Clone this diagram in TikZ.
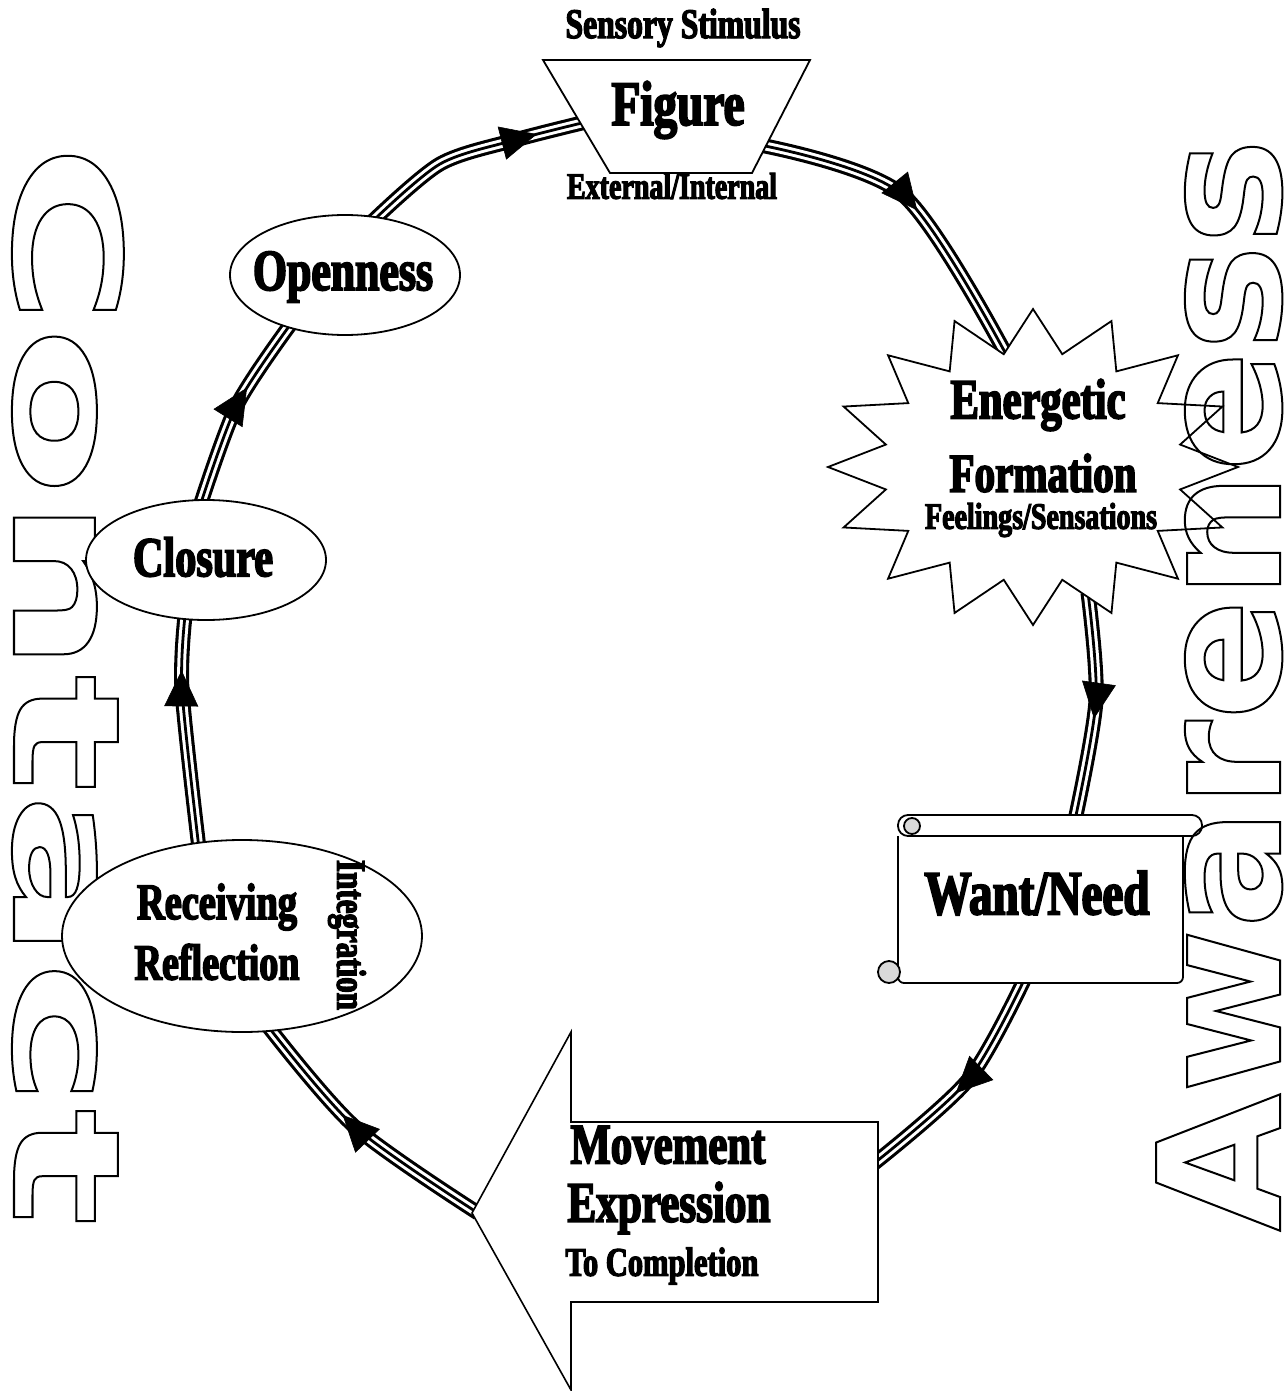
\documentclass[tikz,border=0pt]{standalone}
\usepackage{fontspec}
\usepackage{graphicx}
\setmainfont{Liberation Serif}
\newfontfamily\labfont{Liberation Serif}[FakeStretch=0.75]
\newfontfamily\contactfont{DejaVu Sans}[FakeStretch=1.68]
\newfontfamily\awarefont{DejaVu Sans}[FakeStretch=1.05]
\usetikzlibrary{shapes.geometric, decorations.markings, arrows.meta, calc, backgrounds}
\newcommand{\lab}[2]{\resizebox{#1pt}{!}{\labfont\bfseries\special{pdf:literal direct 2 Tr 0.3 w 0 G}#2\special{pdf:literal direct 0 Tr}}}
\newcommand{\outl}[1]{\special{pdf:literal direct 1 Tr 1 w 0 G}#1\special{pdf:literal direct 0 Tr}}
\begin{document}
\begin{tikzpicture}[x=0.5pt,y=-0.5pt,
  shp/.style={draw=black, fill=white, line width=0.9pt, line join=miter},
  oval/.style={ellipse, draw=black, fill=white, line width=0.9pt, inner sep=0pt},
  txt/.style={inner sep=0pt},
  tline/.style={line width=7.5pt, draw=black,
    postaction={draw=white, line width=4.4pt},
    postaction={draw=black, line width=1.4pt},
    postaction={decorate, decoration={markings, mark=at position #1 with {\arrow{Triangle[length=18pt,width=17pt,line width=0.3pt]}}}}},
  bigword/.style={inner sep=0pt, anchor=base west}]

\useasboundingbox (0,0) rectangle (1286,1391);

% ---------- shapes (main layer) ----------
% Figure trapezoid
\draw[shp] (543,60) -- (810,60) -- (752,173) -- (610,173) -- cycle;
\coordinate (figL) at (586,122);
\coordinate (figR) at (760,145);

% starburst
\coordinate (burst) at (1033,467);
\draw[shp] ($(burst)+(90:205 and 158)$)
  \foreach \k in {1,...,31}{ -- ($(burst)+({90+11.25*\k}:{177.5+27.5*cos(180*\k)} and {136.5+21.5*cos(180*\k)})$) } -- cycle;
\coordinate (burstA) at (1008,358);
\coordinate (burstB) at (1088,593);

% scroll
\draw[shp, rounded corners=3pt] (898,836) -- (898,983) -- (1183,983) -- (1183,836);
\draw[shp, rounded corners=5pt] (898,815) rectangle (1202,836);
\draw[shp, fill=gray!30] (912,826) circle[radius=4pt];
\draw[shp, fill=gray!30] (889,972) circle[radius=5.5pt];
\coordinate (wantT) at (1075,820);
\coordinate (wantB) at (1025,978);

% movement arrow
\draw[shp, line width=0.8pt] (472,1213) -- (571,1032) -- (571,1122) -- (878,1122) -- (878,1302) -- (571,1302) -- (571,1390) -- cycle;
\coordinate (mvTip) at (478,1213);
\coordinate (mvR) at (872,1165);

% ellipses
\node[oval, minimum width=180pt, minimum height=96pt] (recv) at (242,936) {};
\node[oval, minimum width=120pt, minimum height=60pt] (clos) at (206,560) {};
\node[oval, minimum width=115pt, minimum height=60pt] (open) at (345,275) {};

% ---------- background layer: contact word and loop ----------
\begin{pgfonlayer}{background}
\fill[white] (0,0) rectangle (1286,1391);
\node[bigword, rotate=-90] (contact) at (14,143) {\fontsize{74pt}{80pt}\contactfont\bfseries\outl{Contact}};

\coordinate (m1) at (903,195);
\coordinate (m2) at (1096,700);
\coordinate (m3) at (968,1080);
\coordinate (m4) at (355,1127);
\coordinate (m5) at (182,690);
\coordinate (m6) at (237,405);
\coordinate (m7a) at (440,164);
\coordinate (m7) at (515,140);

\draw[tline=0.50] plot[smooth] coordinates {(figR) (m1) (burstA)};
\draw[tline=0.55] plot[smooth] coordinates {(burstB) (m2) (wantT)};
\draw[tline=0.55] plot[smooth] coordinates {(wantB) (m3) (mvR)};
\draw[tline=0.59] plot[smooth] coordinates {(mvTip) (m4) ($(recv.-74)!3pt!(recv.center)$)};
\draw[tline=0.76] plot[smooth] coordinates {($(recv.116)!3pt!(recv.center)$) (m5) ($(clos.-111)!3pt!(clos.center)$)};
\draw[tline=0.62] plot[smooth] coordinates {($(clos.96)!3pt!(clos.center)$) (m6) ($(open.-138)!3pt!(open.center)$)};
\draw[tline=0.79] plot[smooth] coordinates {($(open.63)!3pt!(open.center)$) (m7a) (m7) (figL)};
\end{pgfonlayer}

% ---------- texts ----------
\node[txt] (lsens) at (683,28) {\lab{117.5}{Sensory Stimulus}};
\node[txt] (fig) at (678,110) {\lab{66.5}{Figure}};
\node[txt] (lext) at (672,186) {\lab{105}{External/Internal}};

\node[txt] (ener) at (1038,405) {\lab{87.5}{Energetic}};
\node[txt] (lform) at (1043,473) {\lab{93.5}{Formation}};
\node[txt] (lfeel) at (1041,520) {\lab{116}{Feelings/Sensations}};

\node[txt] (want) at (1037,893) {\lab{112.5}{Want/Need}};

\node[txt, anchor=west] (mv1) at (570,1145) {\lab{97.5}{Movement}};
\node[txt, anchor=west] (mv2) at (567,1208) {\lab{101.5}{Expression}};
\node[txt, anchor=west] (mv3) at (565,1266) {\lab{96.5}{To Completion}};

\node[txt] (rec1) at (217,907) {\lab{80}{Receiving}};
\node[txt] (rec2) at (217,962) {\lab{82.5}{Reflection}};
\node[txt, rotate=-90] (integ) at (347,935) {\lab{75}{Integration}};

\node[txt] (lclos) at (203,557) {\lab{70}{Closure}};
\node[txt] (lopen) at (343,277) {\lab{90}{Openness}};

% Awareness word
\node[bigword, rotate=90] (aware) at (1280,1232) {\fontsize{85pt}{90pt}\awarefont\bfseries\outl{Awareness}};
\end{tikzpicture}
\end{document}
